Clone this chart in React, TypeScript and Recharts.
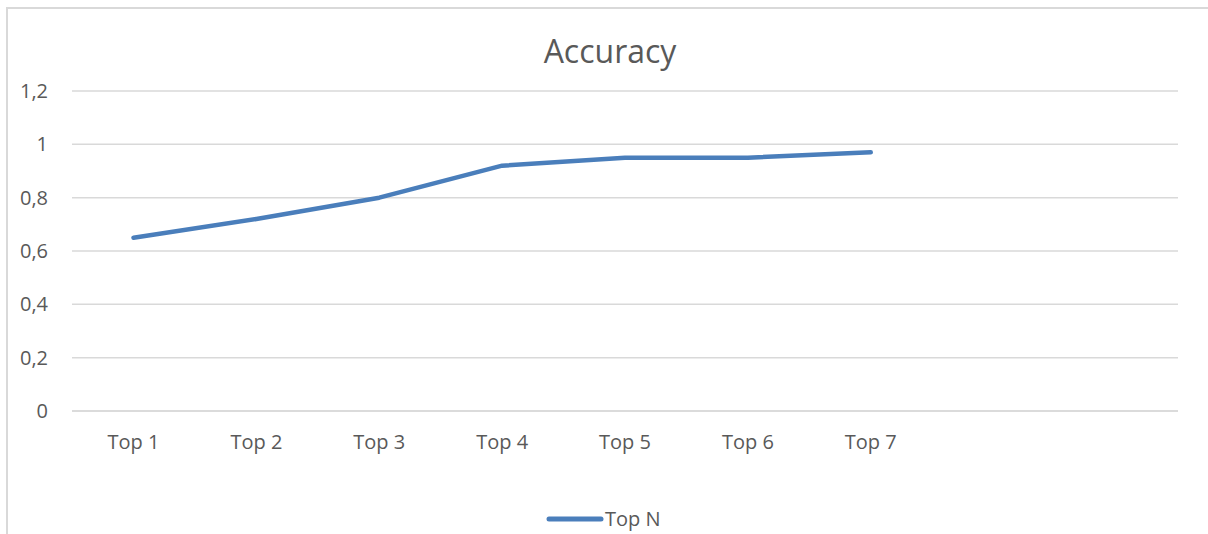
import React from 'react';
import { LineChart, Line, XAxis, YAxis, CartesianGrid } from 'recharts';

// categories (the axis has room for two more, left empty)
const categories = ['Top 1', 'Top 2', 'Top 3', 'Top 4', 'Top 5', 'Top 6', 'Top 7', '', ' '];
const accuracy = [0.65, 0.72, 0.8, 0.92, 0.95, 0.95, 0.97, null, null];
const yTicks = [0, 0.2, 0.4, 0.6, 0.8, 1, 1.2];

const data = categories.map((name, i) => ({ name, value: accuracy[i] }));

const FONT = '"Open Sans", "Noto Sans", sans-serif';
const TEXT = '#595959';
const GRID = '#d9d9d9';
const LINE = '#4a7ebb';

const App: React.FC = () => {
  return (
    <div style={{ position: 'absolute', left: 0, top: 0, width: 1208, height: 534, background: '#fff', overflow: 'hidden', fontFamily: FONT }}>
      <div
        style={{
          position: 'absolute',
          left: 6,
          top: 7,
          width: 1240,
          height: 540,
          borderLeft: `2px solid ${GRID}`,
          borderTop: `2px solid ${GRID}`,
        }}
      />
      <div style={{ position: 'absolute', left: 0, top: 29, width: 1220, textAlign: 'center', fontSize: 32, color: TEXT }}>
        Accuracy
      </div>
      <div style={{ position: 'absolute', left: 0, top: 0 }}>
        <LineChart width={1208} height={534} data={data} margin={{ top: 91, right: 30, left: 0, bottom: 93 }}>
          <CartesianGrid vertical={false} stroke={GRID} strokeWidth={1.5} />
          <XAxis
            dataKey="name"
            height={30}
            padding={{ left: 61.5, right: 61.5 }}
            axisLine={{ stroke: GRID, strokeWidth: 1.5 }}
            tickLine={false}
            tickSize={0}
            tickMargin={24}
            interval={0}
            tick={{ fill: TEXT, fontSize: 20, fontFamily: FONT }}
          />
          <YAxis
            width={72}
            domain={[0, 1.2]}
            ticks={yTicks}
            axisLine={false}
            tickLine={false}
            tickSize={0}
            tickMargin={24}
            tickFormatter={(v: number) => String(v).replace('.', ',')}
            tick={{ fill: TEXT, fontSize: 20, fontFamily: FONT }}
          />
          <Line
            type="linear"
            dataKey="value"
            stroke={LINE}
            strokeWidth={4.5}
            strokeLinecap="round"
            strokeLinejoin="round"
            dot={false}
            activeDot={false}
            isAnimationActive={false}
          />
        </LineChart>
      </div>
      <div style={{ position: 'absolute', left: 546, top: 505, display: 'flex', alignItems: 'center', color: TEXT, fontSize: 20 }}>
        <svg width={58} height={10}>
          <line x1={3} y1={5} x2={55} y2={5} stroke={LINE} strokeWidth={5} strokeLinecap="round" />
        </svg>
        <span style={{ marginLeft: 1 }}>Top N</span>
      </div>
    </div>
  );
};

export default App;
